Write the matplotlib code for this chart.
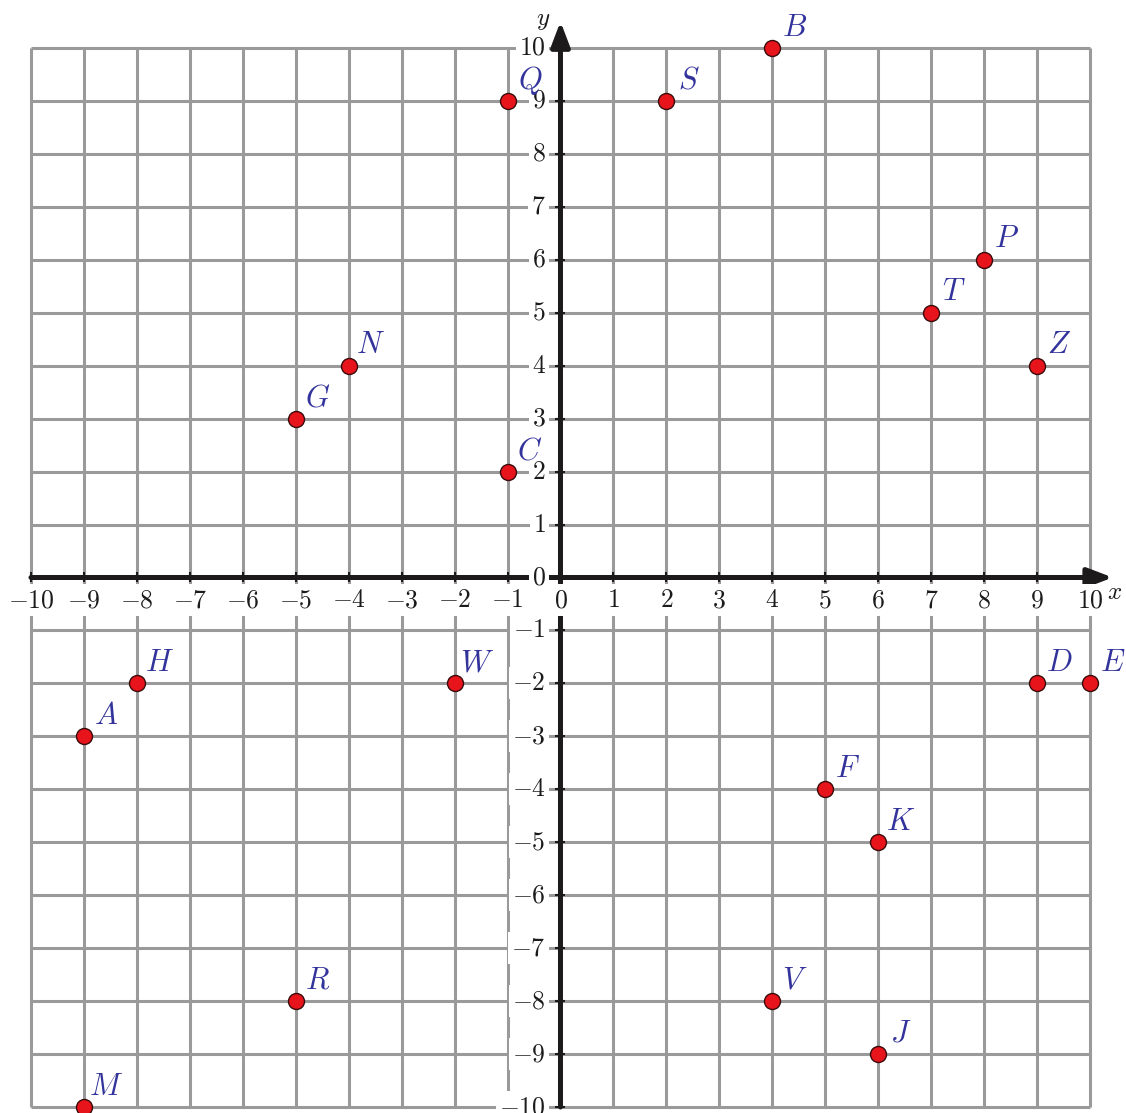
import matplotlib
matplotlib.use("Agg")
import matplotlib.pyplot as plt

plt.rcParams['mathtext.fontset'] = 'cm'

# points
names = ['Q', 'S', 'B', 'P', 'T', 'Z', 'N', 'G', 'C', 'H',
         'A', 'W', 'D', 'E', 'F', 'K', 'V', 'J', 'R', 'M']
xs = [-1, 2, 4, 8, 7, 9, -4, -5, -1, -8,
      -9, -2, 9, 10, 5, 6, 4, 6, -5, -9]
ys = [9, 9, 10, 6, 5, 4, 4, 3, 2, -2,
      -3, -2, -2, -2, -4, -5, -8, -9, -8, -10]

ticks = list(range(-10, 11))

GRID = '#9a9a9a'
AXIS = '#1c1a1a'
LABEL = '#33339c'

fig = plt.figure(figsize=(11.26, 11.13), dpi=100)
ax = fig.add_axes([0, 0, 1, 1])
ax.set_xlim(-10.585, 10.68)
ax.set_ylim(-10.113, 10.906)
ax.axis('off')

# grille
for t in ticks:
    ax.plot([t, t], [-10, 10], color=GRID, lw=2.2, zorder=1, solid_capstyle='butt')
    ax.plot([-10, 10], [t, t], color=GRID, lw=2.2, zorder=1, solid_capstyle='butt')

# axes avec fleches
arrow = dict(arrowstyle='-|>,head_length=1.0,head_width=0.38',
             lw=3.6, color=AXIS, shrinkA=0, shrinkB=0, mutation_scale=15)
ax.annotate('', xy=(10.43, 0), xytext=(-10, 0), arrowprops=arrow, zorder=2)
ax.annotate('', xy=(0, 10.5), xytext=(0, -10), arrowprops=arrow, zorder=2)

# petites graduations
ax.plot(ticks, [0] * len(ticks), ls='none', marker='|', ms=7, mew=1.5, color=AXIS, zorder=3)
ax.plot([0] * len(ticks), ticks, ls='none', marker='_', ms=7, mew=1.5, color=AXIS, zorder=3)

box = dict(boxstyle='square,pad=0.12', fc='white', ec='none')
for t in ticks:
    s = r'$%d$' % t
    ax.text(t, -0.43, s, ha='center', va='center', fontsize=18.5,
            color=AXIS, bbox=box, zorder=4)
    ax.text(-0.28, t, s, ha='right', va='center', fontsize=18.5,
            color=AXIS, bbox=box, zorder=4)

ax.text(10.47, -0.28, r'$x$', ha='center', va='center', fontsize=18, color=AXIS)
ax.text(-0.32, 10.53, r'$y$', ha='center', va='center', fontsize=18, color=AXIS)

# points et lettres
ax.plot(xs, ys, ls='none', marker='o', ms=11.5, mfc='#e8141c', mec='#3a0a0a',
        mew=1.0, zorder=5, clip_on=False)
for n, x, y in zip(names, xs, ys):
    ax.annotate(r'$%s$' % n, (x, y), xytext=(16, 15), textcoords='offset points',
                ha='center', va='center', fontsize=22, color=LABEL, zorder=6)

fig.savefig('out.png', dpi=100)
